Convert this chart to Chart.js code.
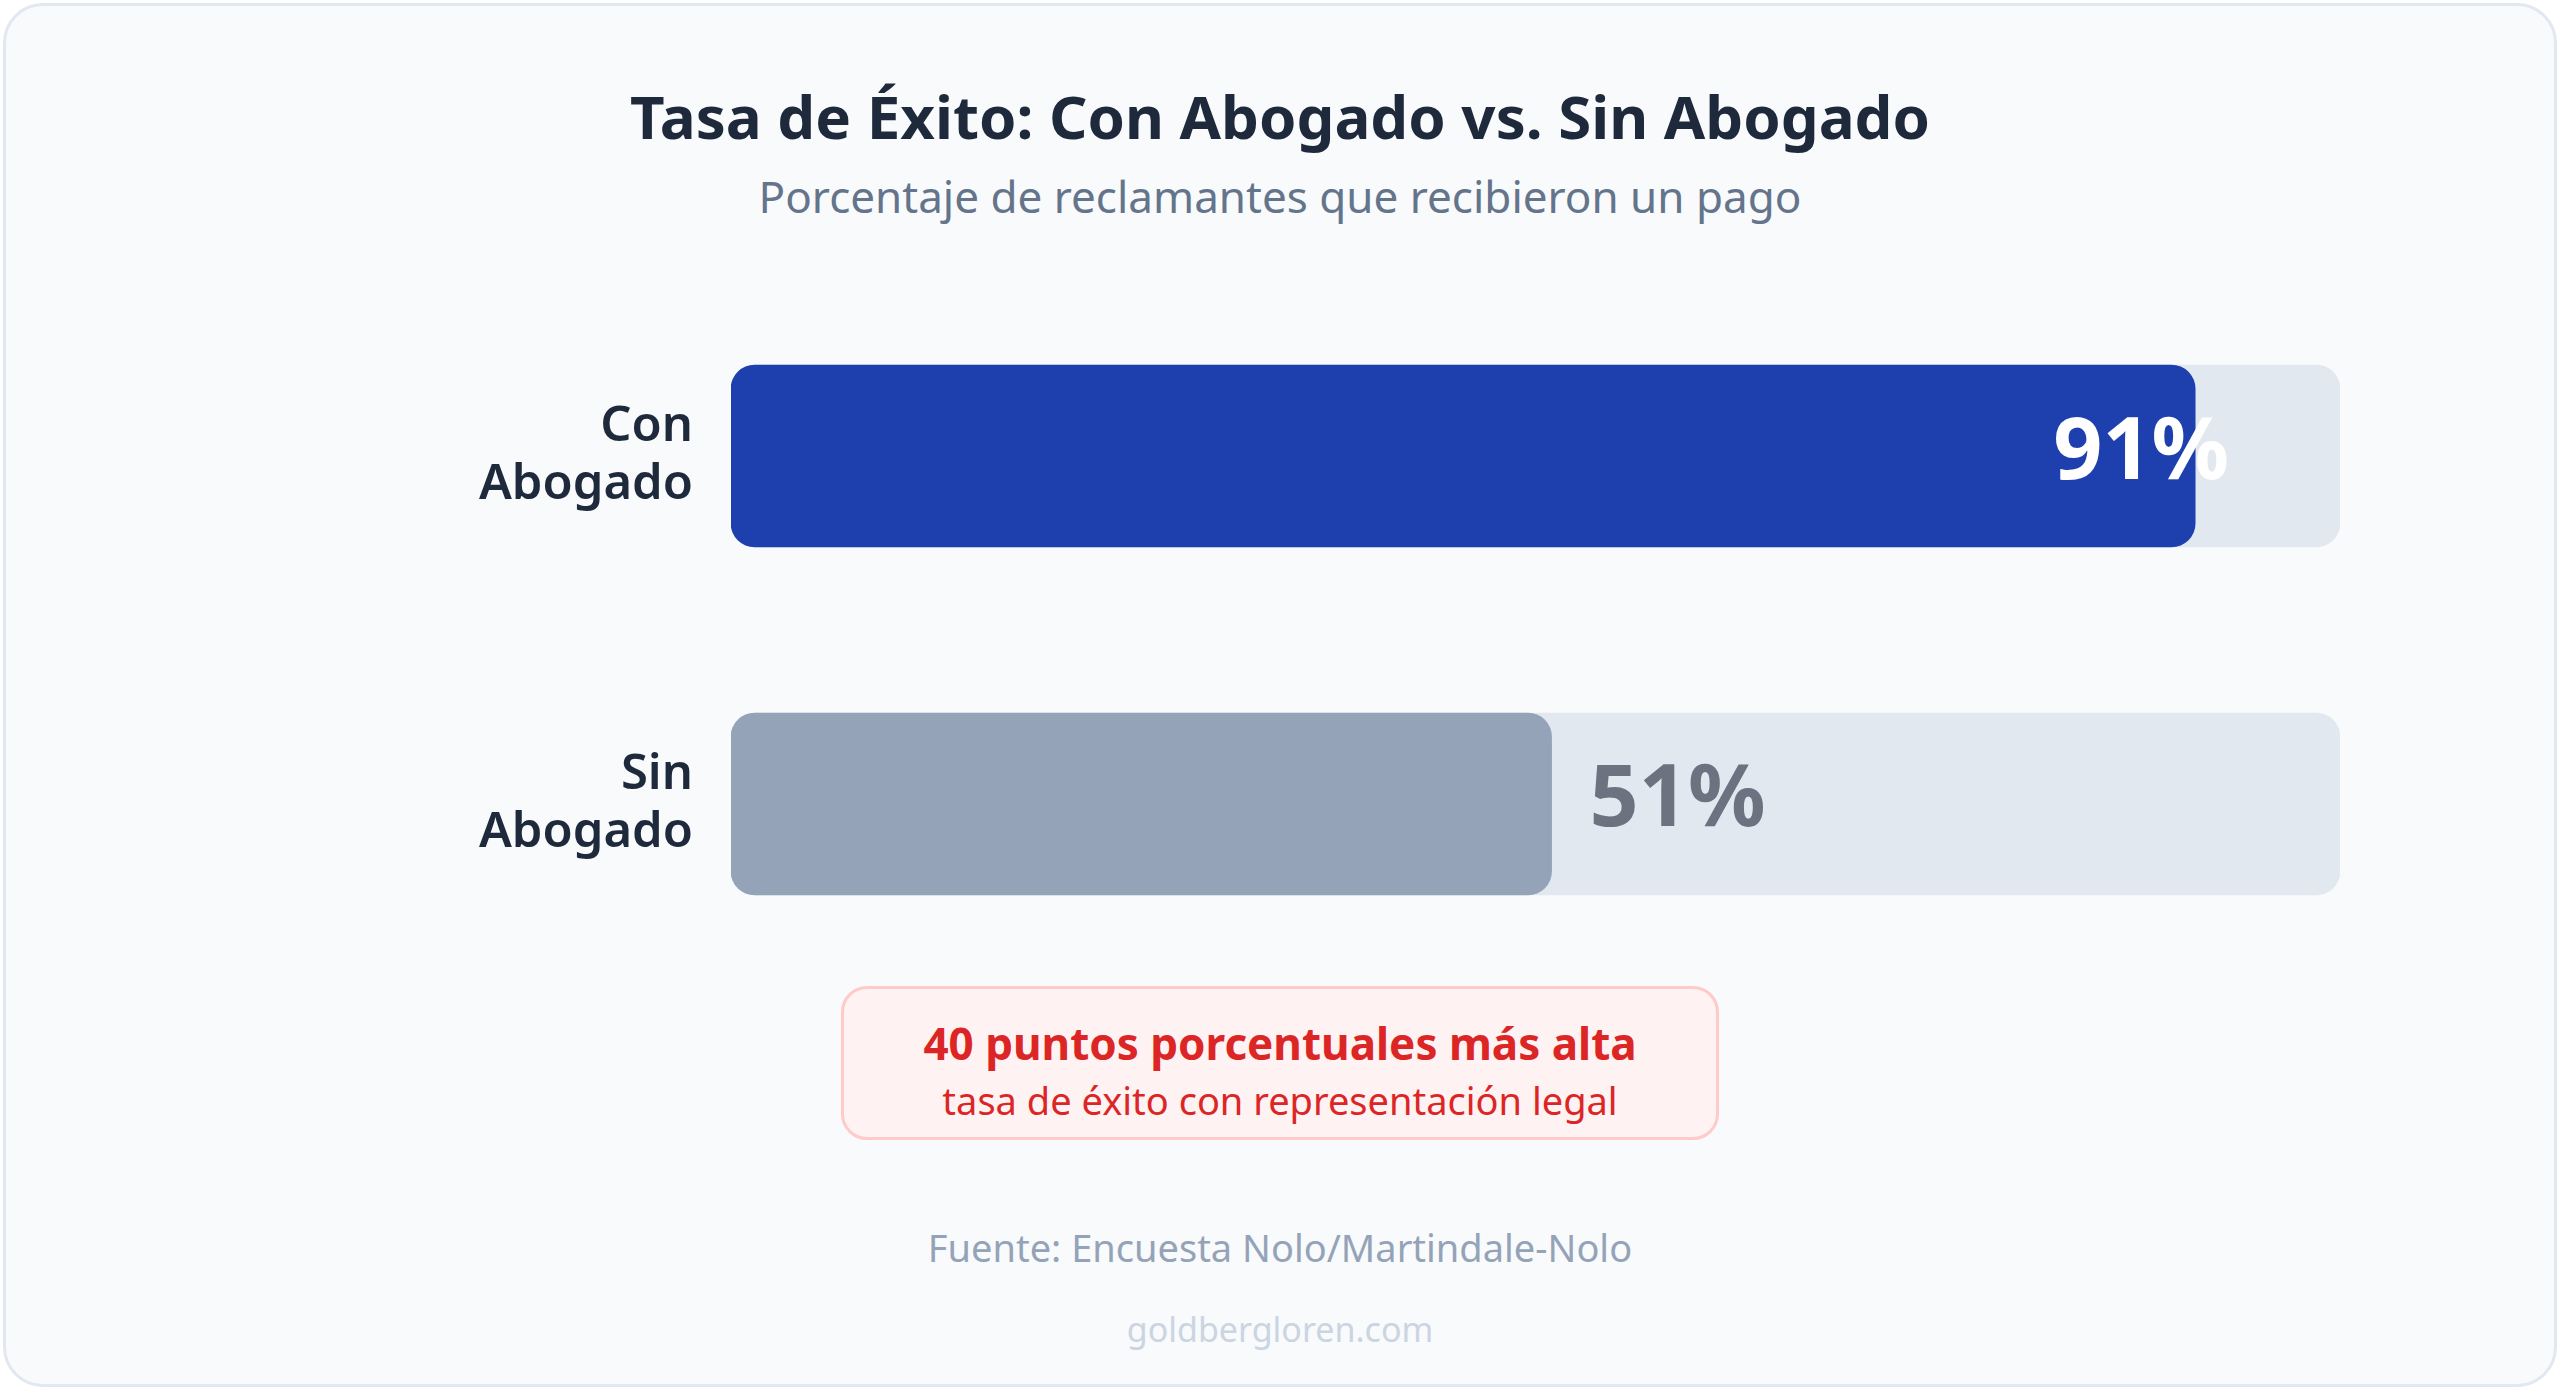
<!DOCTYPE html>
<html lang="es">
<head>
<meta charset="utf-8">
<title>Tasa de Éxito: Con Abogado vs. Sin Abogado</title>
<script src="https://cdn.jsdelivr.net/npm/chart.js@4.4.1/dist/chart.umd.min.js"></script>
<style>
  html, body { margin: 0; padding: 0; background: #ffffff; }
  body { width: 2560px; height: 1390px; position: relative; overflow: hidden; font-family: "Noto Sans", "Open Sans", sans-serif; }
  .card { position: absolute; left: 3px; top: 3px; width: 2548px; height: 1378px; background: #f8fafc; border: 3px solid #e2e8f0; border-radius: 40px; }
  .txt { position: absolute; left: 0; width: 2560px; text-align: center; white-space: nowrap; }
  #title { top: 84px; height: 64px; line-height: 64px; font-size: 60px; font-weight: 700; color: #1e293b; }
  #subtitle { top: 170px; height: 52px; line-height: 52px; font-size: 44px; color: #64748b; }
  #chartWrap { position: absolute; left: 0; top: 282px; width: 2340px; height: 696px; }
  .callout { position: absolute; left: 841px; top: 986px; width: 872px; height: 148px; background: #fef2f2; border: 3px solid #fecaca; border-radius: 26px; }
  #callout1 { top: 1017px; height: 52px; line-height: 52px; font-size: 44px; font-weight: 700; color: #dc2626; }
  #callout2 { top: 1077px; height: 46px; line-height: 46px; font-size: 38px; color: #dc2626; }
  #source { top: 1224px; height: 46px; line-height: 46px; font-size: 38px; color: #94a3b8; }
  #site { top: 1308px; height: 42px; line-height: 42px; font-size: 34px; color: #cbd5e1; }
</style>
</head>
<body>
<div class="card"></div>
<div class="txt" id="title">Tasa de Éxito: Con Abogado vs. Sin Abogado</div>
<div class="txt" id="subtitle">Porcentaje de reclamantes que recibieron un pago</div>
<div id="chartWrap"><canvas id="chart"></canvas></div>
<div class="callout"></div>
<div class="txt" id="callout1">40 puntos porcentuales más alta</div>
<div class="txt" id="callout2">tasa de éxito con representación legal</div>
<div class="txt" id="source">Fuente: Encuesta Nolo/Martindale-Nolo</div>
<div class="txt" id="site">goldbergloren.com</div>

<script>
// ---- data ----
const categories = [["Con", "Abogado"], ["Sin", "Abogado"]];
const successRates = [91, 51];
const scaleMax = 100;
const valueLabels = ["91%", "51%"];

// ---- styles ----
const barColors = ["#1e40af", "#94a3b8"];
const trackColor = "#e2e8f0";
const labelInsideColor = "#ffffff";
const labelOutsideColor = "#6b7280";

const trackValues = categories.map(() => scaleMax);

const valueLabelPlugin = {
  id: "valueLabels",
  afterDatasetsDraw(chart) {
    const ctx = chart.ctx;
    const meta = chart.getDatasetMeta(0);
    ctx.save();
    ctx.font = "700 86px 'Noto Sans', 'Open Sans', sans-serif";
    ctx.textBaseline = "alphabetic";
    meta.data.forEach((bar, i) => {
      const v = successRates[i];
      const inside = v >= 70;
      if (inside) {
        ctx.fillStyle = labelInsideColor;
        ctx.textAlign = "right";
        ctx.fillText(valueLabels[i], bar.x + 34, bar.y + 23);
      } else {
        ctx.fillStyle = labelOutsideColor;
        ctx.textAlign = "left";
        ctx.fillText(valueLabels[i], bar.x + 38, bar.y + 22);
      }
    });
    ctx.restore();
  }
};

new Chart(document.getElementById("chart"), {
  type: "bar",
  data: {
    labels: categories,
    datasets: [
      {
        label: "Tasa de éxito",
        data: successRates,
        backgroundColor: barColors,
        borderRadius: 24,
        borderSkipped: false,
        barThickness: 182,
        grouped: false,
        order: 0
      },
      {
        label: "Total",
        data: trackValues,
        backgroundColor: trackColor,
        borderRadius: 24,
        borderSkipped: false,
        barThickness: 182,
        grouped: false,
        order: 1
      }
    ]
  },
  options: {
    indexAxis: "y",
    responsive: true,
    maintainAspectRatio: false,
    animation: false,
    layout: { padding: 0 },
    plugins: { legend: { display: false }, tooltip: { enabled: false }, title: { display: false } },
    scales: {
      x: { display: false, min: 0, max: scaleMax },
      y: {
        grid: { display: false, drawTicks: false },
        border: { display: false },
        ticks: {
          color: "#1e293b",
          padding: 38,
          font: { family: "'Noto Sans', 'Open Sans', sans-serif", size: 49, weight: "600", lineHeight: 1.2 }
        },
        afterFit(scale) {
          scale.width = 731;
          scale.paddingTop = 0;
          scale.paddingBottom = 0;
        }
      }
    }
  },
  plugins: [valueLabelPlugin]
});
</script>
</body>
</html>
